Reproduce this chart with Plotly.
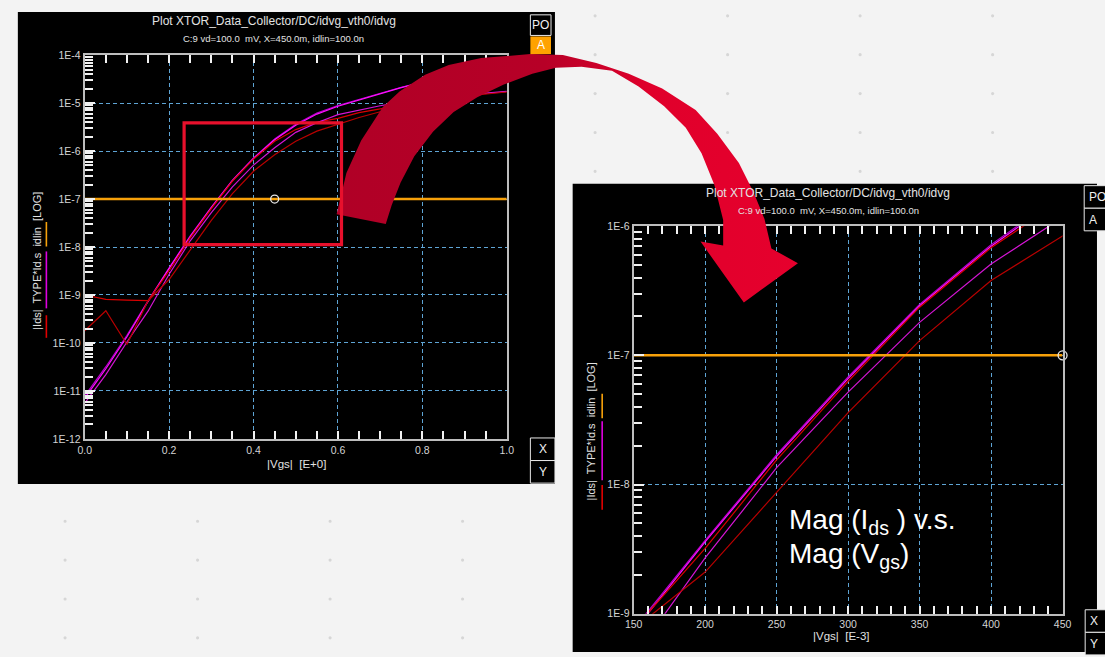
import plotly.graph_objects as go

W, H = 1105, 657

# ---- data -------------------------------------------------------------
vgs = [0.00, 0.05, 0.10, 0.15, 0.20, 0.25, 0.30, 0.35, 0.40, 0.45, 0.50,
       0.55, 0.60, 0.65, 0.70, 0.75, 0.80, 0.85, 0.90, 0.95, 1.00]

ids_purple = [7.9e-12, 3.2e-11, 1.45e-10, 7.6e-10, 3.7e-9, 1.7e-8, 6.8e-8, 2.48e-7,
              7.2e-7, 1.78e-6, 3.6e-6, 6.2e-6, 8.9e-6, 1.2e-5, 1.58e-5, 2.14e-5,
              2.75e-5, 3.3e-5, 3.8e-5, 4.27e-5, 4.7e-5]
ids_pink = [7.1e-12, 2.9e-11, 1.35e-10, 7.3e-10, 3.6e-9, 1.65e-8, 6.6e-8, 2.42e-7,
            7.0e-7, 1.72e-6, 3.45e-6, 5.9e-6, 8.6e-6, 1.17e-5, 1.55e-5, 2.1e-5,
            2.7e-5, 3.25e-5, 3.75e-5, 4.2e-5, 4.6e-5]
ids_red = [1.0e-9, 8.1e-10, 7.8e-10, 7.6e-10, 3.2e-9, 1.55e-8, 6.3e-8, 2.36e-7,
           6.8e-7, 1.6e-6, 2.8e-6, 4.0e-6, 4.8e-6, 6.3e-6, 7.6e-6, 8.7e-6,
           1.1e-5, 1.3e-5, 1.45e-5, 1.58e-5, 1.72e-5]
ids_magenta = [5.6e-12, 2.2e-11, 1.05e-10, 4.6e-10, 2.7e-9, 1.35e-8, 5.2e-8, 1.8e-7,
               5.1e-7, 1.17e-6, 2.45e-6, 3.9e-6, 5.75e-6, 7.2e-6, 8.8e-6, 1.05e-5,
               1.2e-5, 1.35e-5, 1.48e-5, 1.6e-5, 1.75e-5]
ids_darkred = [1.8e-10, 4.7e-10, 9.3e-11, 7.6e-10, 2.1e-9, 8.7e-9, 3.6e-8, 1.3e-7,
               3.8e-7, 8.4e-7, 1.6e-6, 2.6e-6, 3.6e-6, 5.0e-6, 6.6e-6, 8.1e-6,
               1.0e-5, 1.2e-5, 1.4e-5, 1.55e-5, 1.7e-5]

idlin = 1.0e-7          # target current line
vgs_marker = 0.45       # X=450.0m

left_xticks = [0.0, 0.2, 0.4, 0.6, 0.8, 1.0]
left_xlabels = ["0.0", "0.2", "0.4", "0.6", "0.8", "1.0"]
left_yticks = [1e-12, 1e-11, 1e-10, 1e-9, 1e-8, 1e-7, 1e-6, 1e-5, 1e-4]
left_ylabels = ["1E-12", "1E-11", "1E-10", "1E-9", "1E-8", "1E-7", "1E-6", "1E-5", "1E-4"]

right_xticks = [150, 200, 250, 300, 350, 400, 450]
right_xlabels = ["150", "200", "250", "300", "350", "400", "450"]
right_yticks = [1e-9, 1e-8, 1e-7, 1e-6]
right_ylabels = ["1E-9", "1E-8", "1E-7", "1E-6"]

curves = [
    ("purple", ids_purple, "#b000c8"),
    ("pink", ids_pink, "#ff10ff"),
    ("red", ids_red, "#d80000"),
    ("magenta", ids_magenta, "#d414d4"),
    ("darkred", ids_darkred, "#b80000"),
]

# ---- helpers (pixel -> paper) ------------------------------------------
def px(x):
    return x / W


def py(y):
    return 1 - y / H


FONT = "Liberation Sans, Arial, sans-serif"
GRID = "#5ea4d4"
SPINE = "#bdbdbd"
TXT = "#e2e2e2"
ORANGE = "#f7a10a"

fig = go.Figure()

# ---- curves: overview panel (x/y) and zoomed panel (x2/y2) -------------
for name, vals, col in curves:
    fig.add_trace(go.Scatter(x=vgs, y=vals, mode="lines", name=name,
                             line=dict(color=col, width=1.2),
                             xaxis="x", yaxis="y"))
    fig.add_trace(go.Scatter(x=[v * 1000 for v in vgs], y=vals, mode="lines",
                             name=name, line=dict(color=col, width=1.2),
                             xaxis="x2", yaxis="y2"))

fig.add_trace(go.Scatter(x=[0, 1], y=[idlin, idlin], mode="lines",
                         line=dict(color=ORANGE, width=2.5), xaxis="x", yaxis="y"))
fig.add_trace(go.Scatter(x=[vgs_marker], y=[idlin], mode="markers",
                         marker=dict(symbol="circle-open", size=8,
                                     color="#e8e8e8", line=dict(width=1.3)),
                         xaxis="x", yaxis="y"))
fig.add_trace(go.Scatter(x=[150, 450], y=[idlin, idlin], mode="lines",
                         line=dict(color=ORANGE, width=2.5), xaxis="x2", yaxis="y2"))
fig.add_trace(go.Scatter(x=[450], y=[idlin], mode="markers", cliponaxis=False,
                         marker=dict(symbol="circle-open", size=9,
                                     color="#e8e8e8", line=dict(width=1.3)),
                         xaxis="x2", yaxis="y2"))

# ---- curved call-out arrow (drawn in page pixels on an overlay axis) ----
arrow_outer = [(333, 212), (343, 170), (358, 137), (380, 103), (397, 87),
               (423, 70), (447, 60), (480, 53), (530, 49), (563, 50),
               (597, 58), (630, 69), (664, 84), (698, 106), (720, 130),
               (742, 160), (757, 190), (768, 217), (775, 247)]
arrow_head = [(802, 262), (747, 302), (703, 240)]
arrow_inner = [(726, 244), (726, 218), (717, 182), (704, 150), (688, 124),
               (666, 102), (640, 82), (613, 66), (582, 62), (556, 63),
               (532, 69), (503, 80), (476, 93), (452, 108), (431, 128),
               (412, 153), (398, 180), (389, 203), (383, 222)]
pts = arrow_outer + arrow_head + arrow_inner + [arrow_outer[0]]
fig.add_trace(go.Scatter(
    x=[p[0] for p in pts], y=[p[1] for p in pts], mode="lines",
    fill="toself", line=dict(width=0, color="rgba(0,0,0,0)"),
    fillgradient=dict(type="horizontal",
                      colorscale=[[0, "#b00026"], [0.45, "#b70027"],
                                  [0.68, "#e0002b"], [1, "#e6002d"]]),
    xaxis="x3", yaxis="y3", hoverinfo="skip"))

# ---- shapes ------------------------------------------------------------
shapes = []

# faint dotted backdrop
for i in range(9):
    for j in range(17):
        cx = 57 + 134.7 * i
        cy = 10 + 39.6 * j
        shapes.append(dict(type="circle", xref="paper", yref="paper",
                           x0=px(cx - 1.6), x1=px(cx + 1.6),
                           y0=py(cy + 1.6), y1=py(cy - 1.6),
                           fillcolor="#d6d6d6", line=dict(width=0),
                           layer="below"))


def rect(x0, y0, x1, y1, fill, line_col=None, lw=0, layer="below"):
    return dict(type="rect", xref="paper", yref="paper",
                x0=px(x0), x1=px(x1), y0=py(y1), y1=py(y0),
                fillcolor=fill,
                line=dict(color=line_col or "rgba(0,0,0,0)", width=lw),
                layer=layer)


# black panels
shapes.append(rect(9, 6, 555, 487, "#000000"))
shapes.append(rect(573, 181, 1106, 658, "#000000"))

# side buttons
shapes.append(rect(530, 9, 551, 30, "#000000", "#e8e8e8", 1, "above"))
shapes.append(rect(530, 31, 551, 49, "#ffa200", None, 0, "above"))
shapes.append(rect(530, 440, 555, 463, "#000000", "#e8e8e8", 1, "above"))
shapes.append(rect(530, 463, 555, 486, "#000000", "#e8e8e8", 1, "above"))
shapes.append(rect(1093, 183, 1115, 206, "#000000", "#e8e8e8", 1, "above"))
shapes.append(rect(1093, 206, 1115, 229, "#000000", "#e8e8e8", 1, "above"))
shapes.append(rect(1094, 615, 1115, 638, "#000000", "#e8e8e8", 1, "above"))
shapes.append(rect(1094, 638, 1115, 661, "#000000", "#e8e8e8", 1, "above"))

# legend swatches beside the rotated y titles
def seg(x, y0, y1, col):
    return dict(type="line", xref="paper", yref="paper",
                x0=px(x), x1=px(x), y0=py(y0), y1=py(y1),
                line=dict(color=col, width=1.6), layer="above")


shapes += [seg(38, 315, 338, "#e00000"), seg(38, 250, 308, "#e000e0"),
           seg(38, 220, 245, ORANGE)]
shapes += [seg(603, 488, 513, "#e00000"), seg(603, 423, 483, "#e000e0"),
           seg(603, 395, 420, ORANGE)]

# zoom window outline
shapes.append(dict(type="rect", xref="paper", yref="paper",
                   x0=px(178), x1=px(338), y0=py(243), y1=py(119),
                   line=dict(color="#e8102c", width=3.2),
                   fillcolor="rgba(0,0,0,0)", layer="above"))

# ---- annotations -------------------------------------------------------
ann = []


def text(x, y, s, size, color=TXT, xanchor="center", angle=0, yanchor="middle"):
    ann.append(dict(x=px(x), y=py(y), xref="paper", yref="paper", text=s,
                    showarrow=False, xanchor=xanchor, yanchor=yanchor,
                    textangle=angle,
                    font=dict(family=FONT, size=size, color=color)))


NB = "\u00a0"
text(269, 15, "Plot XTOR_Data_Collector/DC/idvg_vth0/idvg", 12)
text(269, 33, f"C:9 vd=100.0{NB} mV, X=450.0m, idlin=100.0n", 9.5)
text(833, 190, "Plot XTOR_Data_Collector/DC/idvg_vth0/idvg", 12)
text(833, 208, f"C:9 vd=100.0{NB} mV, X=450.0m, idlin=100.0n", 9.5)

text(292, 467, f"|Vgs|{NB} [E+0]", 11.5)
text(846, 642, f"|Vgs|{NB} [E-3]", 11.5)

ylab = f"|Ids|{NB} TYPE*Id.s{NB} idlin{NB} [LOG]"
text(29, 260, ylab, 11, angle=-90)
text(592, 433, ylab, 11, angle=-90)

text(540.5, 19.5, "PO", 12, "#f0f0f0")
text(540.5, 40, "A", 12, "#ffffff")
text(542.5, 451.5, "X", 12, "#f0f0f0")
text(542.5, 474.5, "Y", 12, "#f0f0f0")
text(1096, 194.5, "PO", 12, "#f0f0f0", xanchor="left")
text(1096, 217.5, "A", 12, "#f0f0f0", xanchor="left")
text(1097, 626.5, "X", 12, "#f0f0f0", xanchor="left")
text(1097, 649.5, "Y", 12, "#f0f0f0", xanchor="left")

text(791, 525, "Mag (I<sub>ds</sub> ) v.s.", 28, "#ffffff", xanchor="left")
text(791, 560, "Mag (V<sub>gs</sub>)", 28, "#ffffff", xanchor="left")

# ---- axes --------------------------------------------------------------
tickfont = dict(family=FONT, size=10.5, color="#d4d4d4")


def xax(domain, rng, tv, tt, minor_dt):
    return dict(domain=domain, range=rng,
                showline=True, linecolor=SPINE, linewidth=2, mirror="ticks",
                ticks="inside", ticklen=8, tickwidth=1.5, tickcolor="#f2f2f2",
                tickvals=tv, ticktext=tt, tickfont=tickfont,
                showgrid=True, gridcolor=GRID, gridwidth=1, griddash="4px,3px",
                zeroline=False,
                minor=dict(ticks="inside", ticklen=8, tickwidth=1.5,
                           tickcolor="#f2f2f2", dtick=minor_dt, showgrid=False))


def yax(domain, rng, tv, tt):
    return dict(domain=domain, range=rng, type="log",
                showline=True, linecolor=SPINE, linewidth=2, mirror=True,
                ticks="inside", ticklen=10, tickwidth=1.5, tickcolor="#f2f2f2",
                tickvals=tv, ticktext=tt, tickfont=tickfont,
                showgrid=True, gridcolor=GRID, gridwidth=1, griddash="4px,3px",
                zeroline=False,
                minor=dict(ticks="inside", ticklen=8, tickwidth=1.5,
                           tickcolor="#f2f2f2", dtick="D1", showgrid=False))


xa = xax([px(77), px(506)], [0, 1], left_xticks, left_xlabels, 0.05)
xa["anchor"] = "y"
ya = yax([py(441), py(50)], [-12, -4], left_yticks, left_ylabels)
ya["anchor"] = "x"

xa2 = xax([px(635), px(1071)], [150, 450], right_xticks, right_xlabels, 10)
xa2["anchor"] = "y2"
ya2 = yax([py(619), py(224.3)], [-9, -6], right_yticks, right_ylabels)
ya2["anchor"] = "x2"

fig.update_layout(
    width=W, height=H,
    margin=dict(l=0, r=0, t=0, b=0),
    paper_bgcolor="#f3f3f3",
    plot_bgcolor="rgba(0,0,0,0)",
    showlegend=False,
    xaxis=xa, yaxis=ya, xaxis2=xa2, yaxis2=ya2,
    xaxis3=dict(domain=[0, 1], range=[0, W], visible=False, anchor="y3",
                fixedrange=True),
    yaxis3=dict(domain=[0, 1], range=[H, 0], visible=False, anchor="x3",
                fixedrange=True),
    shapes=shapes,
    annotations=ann,
)

fig.write_html("out.html")
